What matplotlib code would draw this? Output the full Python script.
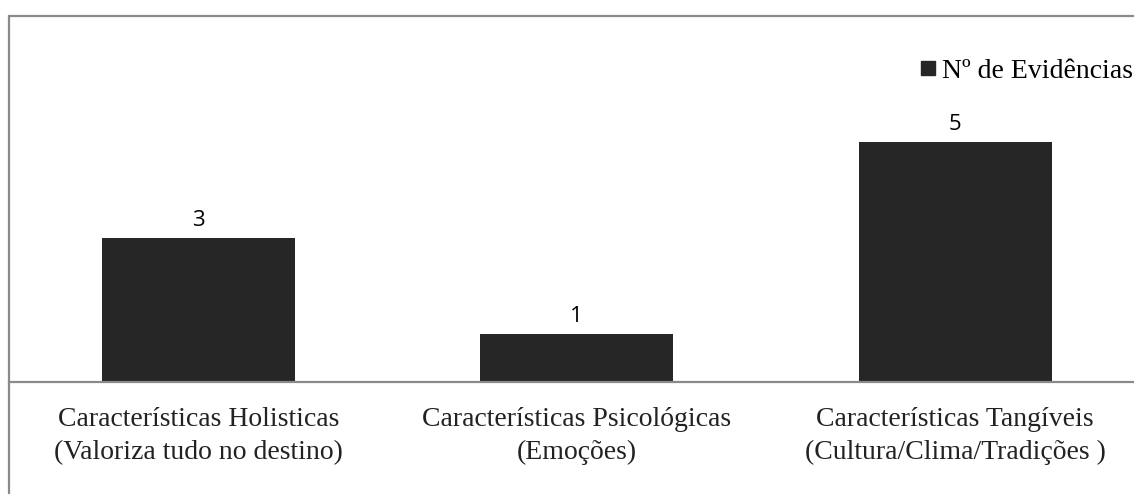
import numpy as np
import matplotlib.pyplot as plt
from matplotlib.patches import Rectangle
from matplotlib.lines import Line2D

# data
categorias = ["Características Holisticas\n(Valoriza tudo no destino)",
              "Características Psicológicas\n(Emoções)",
              "Características Tangíveis\n(Cultura/Clima/Tradições )"]
evidencias = [3, 1, 5]
serie_nome = "Nº de Evidências"

W, H = 1134, 494
fig = plt.figure(figsize=(W / 100, H / 100), dpi=100)

# axes in pixel terms: left 9, right 1144.5, top 16, baseline 382
ax = fig.add_axes([9 / W, (H - 382) / H, (1144.5 - 9) / W, (382 - 16) / H])
x = np.arange(len(evidencias))
bars = ax.bar(x, evidencias, width=0.51, color="#262626")
ax.set_xlim(-0.5, 2.5)
ax.set_ylim(0, (382 - 16) / 48)

# value labels above bars
for b, v in zip(bars, evidencias):
    ax.text(b.get_x() + b.get_width() / 2, v + 0.15, str(v), ha="center", va="bottom",
            fontsize=16, family="Open Sans", color="black")

ax.set_xticks(x)
ax.set_xticklabels(categorias, family="Liberation Serif", fontsize=20, color="#222222",
                   linespacing=1.42)
ax.tick_params(axis="x", length=0, pad=18)
ax.set_yticks([])
for s in ["top", "right", "left"]:
    ax.spines[s].set_visible(False)
ax.spines["bottom"].set_color("#8a8a8a")
ax.spines["bottom"].set_linewidth(1.6)

# chart border
fig.add_artist(Rectangle((9 / W, -0.1), 1.2, (H - 16) / H + 0.1, transform=fig.transFigure,
                         fill=False, edgecolor="#8a8a8a", linewidth=1.6))

handle = Line2D([], [], marker="s", linestyle="none", color="#262626", markersize=10)
fig.legend([handle], [serie_nome], loc="center left", bbox_to_anchor=(914 / W, (H - 71) / H),
           frameon=False, prop={"family": "Liberation Serif", "size": 20},
           handletextpad=0.0, borderpad=0, borderaxespad=0, handlelength=1.0)

fig.savefig("out.png", dpi=100)
